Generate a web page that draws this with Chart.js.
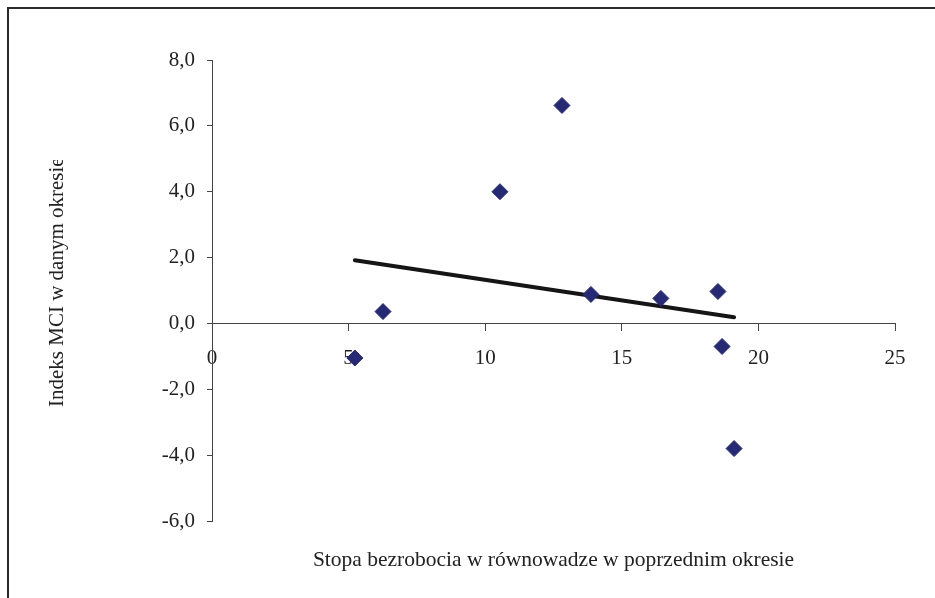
<!DOCTYPE html>
<html>
<head>
<meta charset="utf-8">
<script src="https://cdn.jsdelivr.net/npm/chart.js@4/dist/chart.umd.min.js"></script>
<style>
html,body{margin:0;padding:0;background:#fff;}
canvas{display:block;}
</style>
</head>
<body>
<canvas id="c" width="935" height="598"></canvas>
<script>
// Data
const unemploymentX = [5.23, 6.26, 10.54, 12.81, 13.87, 16.43, 18.52, 18.67, 19.11];
const mciY = [-1.05, 0.36, 4.0, 6.62, 0.88, 0.76, 0.97, -0.7, -3.8];
const trendX = [5.23, 19.11];
const trendY = [1.92, 0.19];
const xTicks = [0, 5, 10, 15, 20, 25];
const yTicks = [-6, -4, -2, 0, 2, 4, 6, 8];
const xTitle = 'Stopa bezrobocia w równowadze w poprzednim okresie';
const yTitle = 'Indeks MCI w danym okresie';

const FONT = '"Liberation Serif", "Times New Roman", serif';

const framePlugin = {
  id: 'frame',
  beforeDraw(chart) {
    const ctx = chart.ctx;
    ctx.save();
    ctx.fillStyle = '#fff';
    ctx.fillRect(0, 0, chart.width, chart.height);
    ctx.strokeStyle = '#2a2a2a';
    ctx.lineWidth = 2;
    ctx.beginPath();
    ctx.moveTo(8, chart.height + 5);
    ctx.lineTo(8, 8);
    ctx.lineTo(chart.width + 5, 8);
    ctx.stroke();
    ctx.restore();
  },
  afterDraw(chart) {
    const ctx = chart.ctx;
    ctx.save();
    ctx.fillStyle = '#222';
    ctx.font = '21.5px ' + FONT;
    ctx.textAlign = 'center';
    ctx.textBaseline = 'alphabetic';
    ctx.fillText(xTitle, (chart.chartArea.left + chart.chartArea.right) / 2, 566);
    ctx.restore();

    ctx.save();
    ctx.beginPath();
    ctx.rect(0, 160, chart.width, chart.height - 160);
    ctx.clip();
    ctx.translate(63, 407);
    ctx.rotate(-Math.PI / 2);
    ctx.fillStyle = '#222';
    ctx.font = '21px ' + FONT;
    ctx.textAlign = 'left';
    ctx.textBaseline = 'alphabetic';
    ctx.fillText(yTitle, 0, 0);
    ctx.restore();
  }
};

const points = unemploymentX.map((x, i) => ({x: x, y: mciY[i]}));
const trend = trendX.map((x, i) => ({x: x, y: trendY[i]}));

new Chart(document.getElementById('c'), {
  type: 'scatter',
  data: {
    datasets: [
      {
        label: 'MCI',
        data: points,
        pointStyle: 'rectRot',
        pointRadius: 8,
        pointBackgroundColor: '#262a75',
        pointBorderColor: '#262a75',
        pointBorderWidth: 1,
        showLine: false
      },
      {
        label: 'Trend',
        data: trend,
        showLine: true,
        borderColor: '#151515',
        borderWidth: 4,
        borderCapStyle: 'round',
        pointRadius: 0,
        fill: false
      }
    ]
  },
  options: {
    responsive: false,
    animation: false,
    events: [],
    layout: {padding: {left: 0, top: 60, right: 40, bottom: 77}},
    plugins: {legend: {display: false}, tooltip: {enabled: false}, title: {display: false}},
    scales: {
      x: {
        type: 'linear',
        position: {y: 0},
        min: 0, max: 25,
        afterBuildTicks: s => { s.ticks = xTicks.map(v => ({value: v})); },
        grid: {drawOnChartArea: false, drawTicks: true, tickLength: 7, tickColor: '#444', lineWidth: 1},
        border: {display: true, color: '#444', width: 1},
        ticks: {
          padding: 15,
          color: '#222',
          font: {family: FONT, size: 21},
          maxRotation: 0,
          autoSkip: false,
          callback: v => String(v)
        }
      },
      y: {
        type: 'linear',
        position: 'left',
        min: -6, max: 8,
        afterBuildTicks: s => { s.ticks = yTicks.map(v => ({value: v})); },
        afterFit: s => { s.width = 212; },
        grid: {drawOnChartArea: false, drawTicks: true, tickLength: 5, tickColor: '#444', lineWidth: 1},
        border: {display: true, color: '#444', width: 1},
        ticks: {
          padding: 12,
          color: '#222',
          font: {family: FONT, size: 21},
          autoSkip: false,
          callback: v => v.toFixed(1).replace('.', ',')
        }
      }
    }
  },
  plugins: [framePlugin]
});
</script>
</body>
</html>
